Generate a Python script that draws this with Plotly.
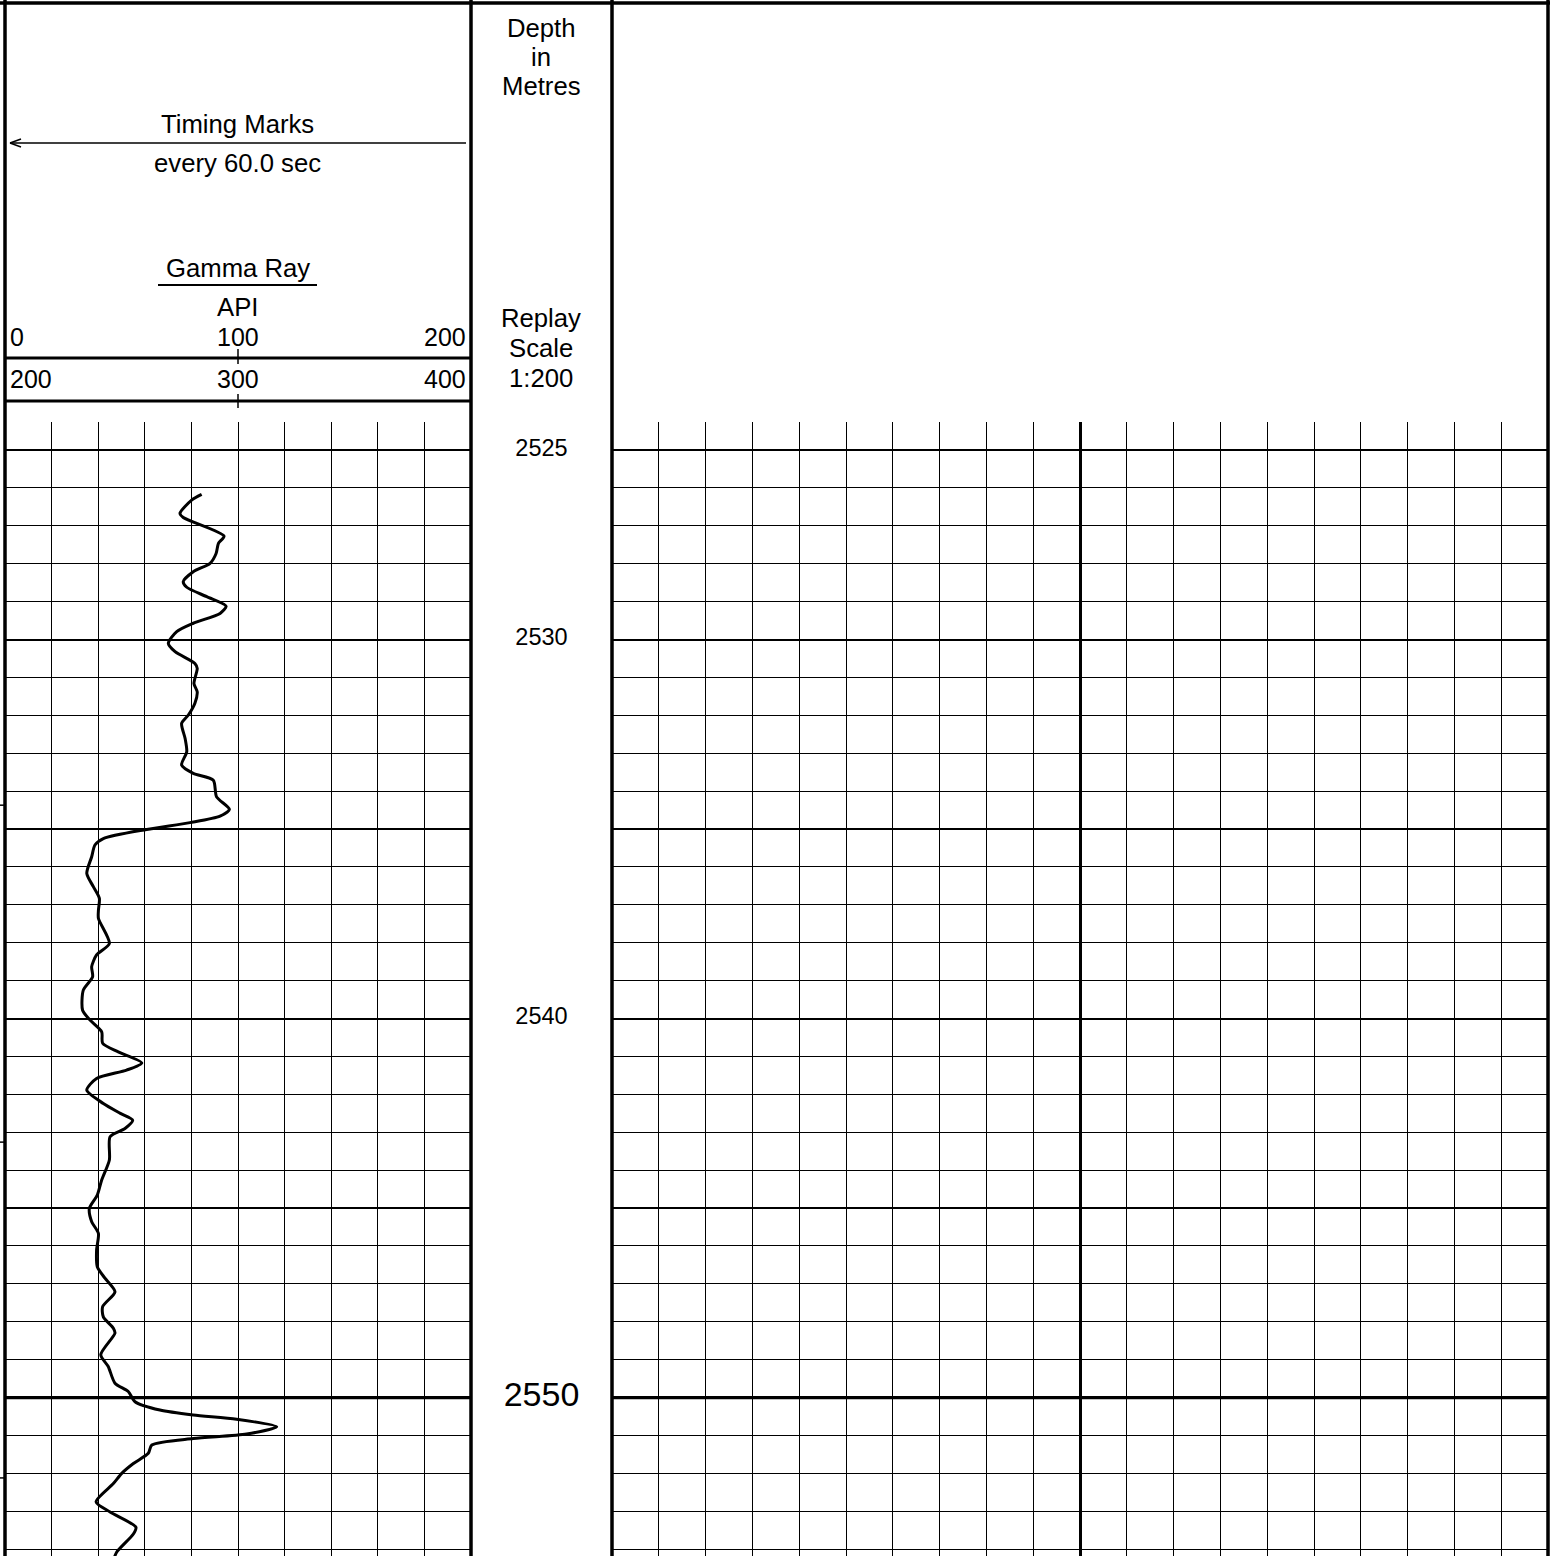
import plotly.graph_objects as go

# ---------------- data ----------------
gr_depth = [2526.17, 2526.32, 2526.67, 2526.78, 2527.27, 2527.46, 2527.73, 2527.99, 2528.21, 2528.47,
            2528.62, 2528.87, 2529.12, 2529.31, 2529.57, 2529.79, 2530.10, 2530.32, 2530.63, 2530.76,
            2531.16, 2531.38, 2531.68, 2531.99, 2532.21, 2532.61, 2532.96, 2533.31, 2533.53, 2533.71,
            2534.15, 2534.48, 2534.66, 2534.83, 2535.01, 2535.25, 2535.42, 2535.73, 2536.17, 2536.52,
            2536.83, 2537.14, 2537.36, 2538.02, 2538.32, 2538.63, 2538.90, 2539.25, 2539.78, 2540.04,
            2540.35, 2540.65, 2540.88, 2541.17, 2541.36, 2541.58, 2541.89, 2542.24, 2542.50, 2542.68,
            2542.90, 2543.12, 2543.73, 2544.26, 2544.66, 2545.01, 2545.36, 2545.67, 2546.11, 2546.55,
            2546.85, 2547.21, 2547.60, 2547.87, 2548.17, 2548.30, 2548.87, 2549.18, 2549.62, 2549.84,
            2550.11, 2550.33, 2550.46, 2550.57, 2550.77, 2550.96, 2551.08, 2551.25, 2551.47, 2551.74,
            2552.00, 2552.27, 2552.75, 2553.02, 2553.42, 2553.60, 2554.08, 2554.30]
gr_api = [84.4, 80.1, 75.1, 76.5, 94.0, 91.6, 90.6, 88.0, 80.8, 76.5,
          78.0, 86.6, 94.9, 92.3, 80.8, 73.7, 70.1, 73.0, 81.5, 82.5,
          81.1, 82.5, 81.5, 78.7, 75.8, 77.3, 78.0, 75.8, 80.8, 89.4,
          90.8, 96.3, 92.3, 79.4, 60.8, 42.2, 38.6, 37.2, 35.1, 37.9,
          40.5, 40.1, 40.1, 44.8, 39.3, 37.2, 37.6, 33.6, 33.3, 36.5,
          41.5, 41.9, 48.6, 58.7, 52.2, 39.3, 35.1, 42.2, 49.5, 54.8,
          51.5, 45.1, 44.8, 41.5, 39.6, 36.2, 37.2, 40.1, 39.3, 39.6,
          42.9, 47.2, 41.9, 42.2, 46.5, 47.2, 41.1, 44.3, 47.2, 52.9,
          55.8, 66.5, 80.8, 99.4, 116.6, 103.7, 80.8, 63.0, 61.5, 55.1,
          50.1, 46.5, 39.1, 45.1, 56.2, 55.1, 47.9, 46.5]

depth_label_values = [2525, 2530, 2540, 2550]
depth_label_text = ["2525", "2530", "2540", "2550"]
depth_label_sizes = [23.5, 23.5, 23.5, 34]

timing_mark_depths = [2534.37, 2543.26, 2552.12]

gr_scale_top = ["0", "100", "200"]
gr_scale_bottom = ["200", "300", "400"]

depth_top = 2524.26
depth_bottom = 2554.18

# ---------------- layout geometry ----------------
W, H = 1550, 1556
def px(x):
    return x / W
def py(y):
    return 1 - y / H

grid_top = 422
ydom = [0, py(grid_top)]
font_family = "Liberation Sans, Arial, sans-serif"
black = "#000000"
HDR = 25.7

fig = go.Figure()

# Gamma ray curve (track 1)
fig.add_trace(go.Scatter(x=gr_api, y=gr_depth, mode="lines",
                         line=dict(color=black, width=3.0, shape="spline", smoothing=0.7),
                         xaxis="x", yaxis="y", hoverinfo="skip", showlegend=False))
# Depth labels (depth track)
fig.add_trace(go.Scatter(x=[0.5] * len(depth_label_values), y=depth_label_values, mode="text",
                         text=depth_label_text,
                         textfont=dict(family=font_family, size=depth_label_sizes, color=black),
                         textposition="middle center", cliponaxis=False,
                         xaxis="x2", yaxis="y2", hoverinfo="skip", showlegend=False))
# Empty track 3 (shares depth axis for its grid)
fig.add_trace(go.Scatter(x=[None], y=[None], mode="lines", xaxis="x3", yaxis="y",
                         hoverinfo="skip", showlegend=False))

common_hidden = dict(showticklabels=False, ticks="", zeroline=False, showline=False)

fig.update_layout(
    width=W, height=H,
    margin=dict(l=0, r=0, t=0, b=0),
    paper_bgcolor="white", plot_bgcolor="white",
    showlegend=False,
    xaxis=dict(domain=[px(5), px(471)], range=[0, 200], anchor="y",
               showgrid=True, tick0=0, dtick=20, gridcolor=black, gridwidth=1.3,
               **common_hidden),
    yaxis=dict(domain=ydom, range=[depth_bottom, depth_top], anchor="x",
               showgrid=True, tick0=2525, dtick=5, gridcolor=black, gridwidth=2.2,
               minor=dict(tick0=2525, dtick=1, showgrid=True, gridcolor=black, gridwidth=1.3),
               **common_hidden),
    xaxis2=dict(domain=[px(471), px(612)], range=[0, 1], anchor="y2", showgrid=False,
                **common_hidden),
    yaxis2=dict(domain=ydom, range=[depth_bottom, depth_top], anchor="x2", showgrid=False,
                **common_hidden),
    xaxis3=dict(domain=[px(612), px(1548)], range=[0, 20], anchor="y",
                showgrid=True, tick0=0, dtick=10, gridcolor=black, gridwidth=2.8,
                minor=dict(tick0=0, dtick=1, showgrid=True, gridcolor=black, gridwidth=1.3),
                **common_hidden),
)

shapes = []
def pline(x0, y0, x1, y1, w):
    shapes.append(dict(type="line", xref="paper", yref="paper",
                       x0=px(x0), y0=py(y0), x1=px(x1), y1=py(y1),
                       line=dict(color=black, width=w)))

# heavy 2550 line across both gridded tracks
for xr in ["x domain", "x3 domain"]:
    shapes.append(dict(type="line", xref=xr, yref="y", x0=0, x1=1, y0=2550, y1=2550,
                       line=dict(color=black, width=3.2)))

# borders
pline(0, 3, W, 3, 3.5)
pline(5, 0, 5, H, 3.5)
pline(471, 0, 471, H, 3.5)
pline(612, 0, 612, H, 3.5)
pline(1548, 0, 1548, H, 3.5)
# header lines in track 1
pline(5, 358, 471, 358, 3)
pline(5, 401, 471, 401, 3)
# centre ticks in header
pline(238, 349, 238, 364, 1.5)
pline(238, 394, 238, 408, 1.5)
# timing arrow
pline(10, 143, 466, 143, 1.5)
pline(10, 143, 21, 139, 1.5)
pline(10, 143, 21, 147, 1.5)
# Gamma Ray underline
pline(158, 285, 317, 285, 2)

# timing marks (left edge ticks)
for d in timing_mark_depths:
    shapes.append(dict(type="line", xref="paper", yref="y", x0=0, x1=px(5), y0=d, y1=d,
                       line=dict(color=black, width=1.5)))

fig.update_layout(shapes=shapes)

annotations = []
def txt(s, x, y, size=HDR, xanchor="center"):
    annotations.append(dict(text=s, x=px(x), y=py(y), xref="paper", yref="paper",
                            xanchor=xanchor, yanchor="middle", showarrow=False,
                            font=dict(family=font_family, size=size, color=black)))

txt("Timing Marks", 238, 124)
txt("every 60.0 sec", 238, 163)
txt("Gamma Ray", 238, 268)
txt("API", 238, 307)
txt(gr_scale_top[0], 8, 337, size=25, xanchor="left")
txt(gr_scale_top[1], 238, 337, size=25)
txt(gr_scale_top[2], 468, 337, size=25, xanchor="right")
txt(gr_scale_bottom[0], 8, 379, size=25, xanchor="left")
txt(gr_scale_bottom[1], 238, 379, size=25)
txt(gr_scale_bottom[2], 468, 379, size=25, xanchor="right")
txt("Depth", 541, 28)
txt("in", 541, 57)
txt("Metres", 541, 86)
txt("Replay", 541, 318)
txt("Scale", 541, 348)
txt("1:200", 541, 378)

fig.update_layout(annotations=annotations)

fig.write_html("out.html", config={"displayModeBar": False},
               post_script="document.body.style.margin='0';document.body.style.overflow='hidden';")
